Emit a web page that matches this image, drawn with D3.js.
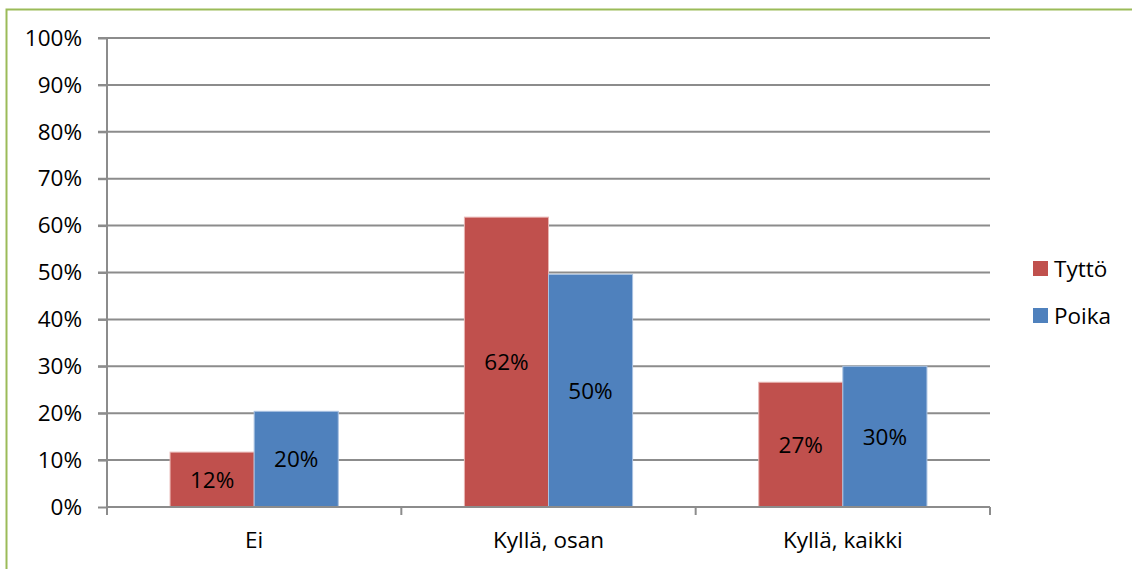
<!DOCTYPE html>
<html>
<head>
<meta charset="UTF-8">
<script src="https://d3js.org/d3.v7.min.js"></script>
<style>
  html, body { margin: 0; padding: 0; background: #fff; }
  svg { display: block; font-family: 'Open Sans', sans-serif; }
</style>
</head>
<body>
<div id="chart"></div>
<script>
  // data
  var categories = ["Ei", "Kyllä, osan", "Kyllä, kaikki"];
  var seriesNames = ["Tyttö", "Poika"];
  var tytto = [11.7, 61.8, 26.6];
  var poika = [20.4, 49.6, 30.0];
  var yTicks = [0, 10, 20, 30, 40, 50, 60, 70, 80, 90, 100];
  var colors = ["#C0504D", "#4F81BD"];

  var width = 1132, height = 569;
  var plot = { left: 107, right: 990, top: 38, bottom: 507 };
  var fontSize = "22.5px";

  var svg = d3.select("#chart").append("svg")
    .attr("width", width)
    .attr("height", height);

  // green frame
  svg.append("rect")
    .attr("x", 6.5).attr("y", 9.5)
    .attr("width", width + 20).attr("height", height + 20)
    .attr("fill", "none")
    .attr("stroke", "#9BBB59")
    .attr("stroke-width", 2);

  var x = d3.scaleBand().domain(categories).range([plot.left, plot.right]).paddingInner(0).paddingOuter(0);
  var y = d3.scaleLinear().domain([0, 100]).range([plot.bottom, plot.top]);
  // bar width: Excel gap width 150%
  var groupW = x.bandwidth() * 2 / 3.5;
  var xs = d3.scaleBand().domain(seriesNames).range([0, groupW]);

  // gridlines
  svg.append("g").selectAll("line")
    .data(yTicks.filter(function(d) { return d > 0; }))
    .enter().append("line")
    .attr("x1", plot.left - 9).attr("x2", plot.right)
    .attr("y1", function(d) { return y(d); })
    .attr("y2", function(d) { return y(d); })
    .attr("stroke", "#8c8c8c")
    .attr("stroke-width", 2);

  // y axis
  var yAxis = d3.axisLeft(y).tickValues(yTicks).tickSize(9).tickPadding(16)
    .tickFormat(function(d) { return d + "%"; });
  var gy = svg.append("g").attr("transform", "translate(" + plot.left + ",0)").call(yAxis);
  gy.select(".domain").attr("stroke", "#8c8c8c").attr("stroke-width", 2)
    .attr("d", "M0," + plot.top + "V" + (plot.bottom + 8));
  gy.selectAll(".tick line").attr("stroke", "#8c8c8c").attr("stroke-width", 2);
  gy.selectAll("text").attr("font-size", fontSize).attr("fill", "#000")
    .attr("font-family", "'Open Sans', sans-serif");

  // bars
  var rows = categories.map(function(c, i) {
    return { cat: c, values: [tytto[i], poika[i]] };
  });
  var groups = svg.append("g").selectAll("g")
    .data(rows).enter().append("g")
    .attr("transform", function(d) {
      return "translate(" + (x(d.cat) + (x.bandwidth() - groupW) / 2) + ",0)";
    });

  groups.selectAll("rect")
    .data(function(d) { return d.values.map(function(v, j) { return { s: seriesNames[j], v: v, j: j }; }); })
    .enter().append("rect")
    .attr("x", function(d) { return xs(d.s); })
    .attr("width", xs.bandwidth())
    .attr("y", function(d) { return y(d.v); })
    .attr("height", function(d) { return y(0) - y(d.v); })
    .attr("fill", function(d) { return colors[d.j]; })
    .attr("stroke", function(d) { return d.j === 0 ? "#e8b5b3" : "#a9c2e2"; })
    .attr("stroke-width", 1);

  groups.selectAll("text")
    .data(function(d) { return d.values.map(function(v, j) { return { s: seriesNames[j], v: v }; }); })
    .enter().append("text")
    .attr("x", function(d) { return xs(d.s) + xs.bandwidth() / 2; })
    .attr("y", function(d) { return (y(d.v) + y(0)) / 2; })
    .attr("dy", "0.36em")
    .attr("text-anchor", "middle")
    .attr("font-size", fontSize)
    .attr("fill", "#000")
    .text(function(d) { return Math.round(d.v) + "%"; });

  // x axis
  var xAxis = d3.axisBottom(x).tickSize(0).tickPadding(25);
  var gx = svg.append("g").attr("transform", "translate(0," + plot.bottom + ")").call(xAxis);
  gx.select(".domain").remove();
  gx.selectAll("text").attr("font-size", fontSize).attr("fill", "#000")
    .attr("font-family", "'Open Sans', sans-serif");
  svg.append("line")
    .attr("x1", plot.left).attr("x2", plot.right)
    .attr("y1", plot.bottom).attr("y2", plot.bottom)
    .attr("stroke", "#8c8c8c").attr("stroke-width", 2);
  svg.append("g").selectAll("line")
    .data(d3.range(categories.length + 1))
    .enter().append("line")
    .attr("x1", function(i) { return plot.left + i * x.step(); })
    .attr("x2", function(i) { return plot.left + i * x.step(); })
    .attr("y1", plot.bottom).attr("y2", plot.bottom + 8)
    .attr("stroke", "#8c8c8c").attr("stroke-width", 2);

  // legend
  var legend = svg.append("g").selectAll("g")
    .data(seriesNames).enter().append("g")
    .attr("transform", function(d, i) { return "translate(1033," + (261 + i * 47) + ")"; });
  legend.append("rect").attr("width", 15).attr("height", 15)
    .attr("fill", function(d, i) { return colors[i]; });
  legend.append("text").attr("x", 21).attr("y", 8).attr("dy", "0.36em")
    .attr("font-size", fontSize).attr("fill", "#000")
    .text(function(d) { return d; });
</script>
</body>
</html>
